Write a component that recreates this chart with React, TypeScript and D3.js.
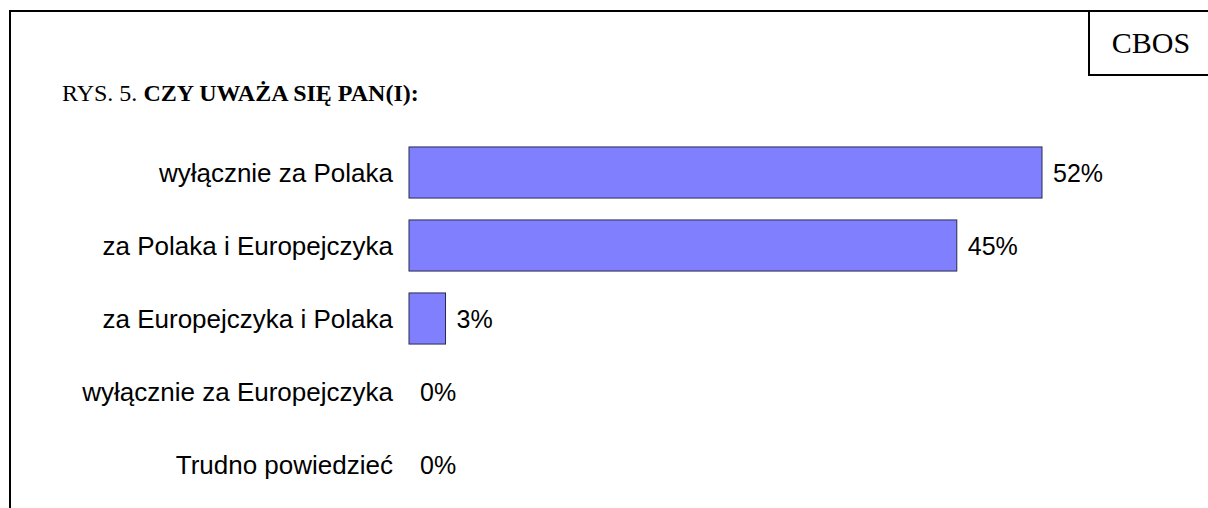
import React from "react";
import * as d3 from "d3";

const categories = [
  "wyłącznie za Polaka",
  "za Polaka i Europejczyka",
  "za Europejczyka i Polaka",
  "wyłącznie za Europejczyka",
  "Trudno powiedzieć",
];
const values = [52, 45, 3, 0, 0];
const valueLabels = ["52%", "45%", "3%", "0%", "0%"];
const titlePrefix = "RYS. 5. ";
const titleBold = "CZY UWAŻA SIĘ PAN(I):";
const brand = "CBOS";

export default function App() {
  const W = 1208;
  const H = 508;
  const x = d3.scaleLinear().domain([0, 52]).range([409, 1042]);
  const y = d3
    .scaleBand<string>()
    .domain(categories)
    .range([136, 501])
    .paddingInner(0.3)
    .paddingOuter(0.15);
  const bw = y.bandwidth();
  const sans = "'Liberation Sans', Arial, sans-serif";
  const serif = "'Liberation Serif', 'Times New Roman', serif";
  return (
    <svg
      width={W}
      height={H}
      style={{ position: "absolute", left: 0, top: 0, background: "#fff" }}
    >
      <rect x={0} y={0} width={W} height={H} fill="#fff" />
      {/* frame */}
      <line x1={9} y1={11} x2={W} y2={11} stroke="#000" strokeWidth={2} />
      <line x1={10} y1={10} x2={10} y2={H} stroke="#000" strokeWidth={2} />
      <line x1={1089} y1={11} x2={1089} y2={75} stroke="#000" strokeWidth={2} />
      <line x1={1088} y1={75} x2={W} y2={75} stroke="#000" strokeWidth={2} />
      <text x={1151} y={53} textAnchor="middle" fontFamily={serif} fontSize={30} fill="#000">
        {brand}
      </text>
      <text x={62} y={101} fontFamily={serif} fontSize={24} fill="#000">
        {titlePrefix}
        <tspan fontWeight="bold">{titleBold}</tspan>
      </text>
      {categories.map((c, i) => {
        const yc = (y(c) as number) + bw / 2;
        const v = values[i];
        return (
          <g key={c}>
            <text
              x={393}
              y={yc}
              dy="0.36em"
              textAnchor="end"
              fontFamily={sans}
              fontSize={26}
              fill="#000"
            >
              {c}
            </text>
            {v > 0 && (
              <rect
                x={x(0)}
                y={y(c) as number}
                width={x(v) - x(0)}
                height={bw}
                fill="#8080FF"
                stroke="#2a2a50"
                strokeWidth={1}
              />
            )}
            <text
              x={x(v) + 11}
              y={yc}
              dy="0.36em"
              fontFamily={sans}
              fontSize={25}
              fill="#000"
            >
              {valueLabels[i]}
            </text>
          </g>
        );
      })}
    </svg>
  );
}
